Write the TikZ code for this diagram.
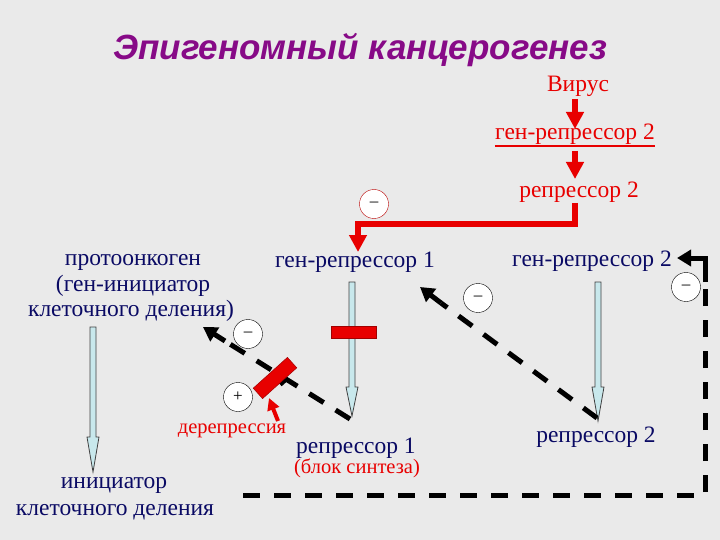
\documentclass[tikz,border=0pt]{standalone}
\usepackage{fontspec}
\setmainfont{Liberation Serif}
\newfontfamily\ttlfont{Liberation Sans}
\usetikzlibrary{arrows.meta}
\definecolor{bg}{RGB}{234,234,234}
\definecolor{navy}{RGB}{10,10,100}
\definecolor{rd}{RGB}{232,0,0}
\definecolor{ttl}{RGB}{135,10,135}
\definecolor{lblue}{RGB}{200,232,236}
\newcommand\blarr[4]{% x, ytop, yhead, ytip
  \filldraw[fill=lblue,draw=black!75,line width=0.8pt]
    (#1-3,#2) -- (#1+3,#2) -- (#1+3,#3) -- (#1+6,#3) -- (#1,#4)
    -- (#1-6,#3) -- (#1-3,#3) -- cycle;}
\begin{document}
\begin{tikzpicture}[x=1pt,y=-1pt,
  lbl/.style={font=\fontsize{23.5}{26}\selectfont, text=navy, inner sep=0pt, anchor=base},
  rlbl/.style={lbl, text=rd},
  smallr/.style={font=\fontsize{20.5}{23}\selectfont, text=rd, inner sep=0pt, anchor=base},
  redarr/.style={draw=rd, line width=6pt, -{Triangle[width=17pt,length=17pt]}},
  dsh/.style={draw=black, line width=5pt, dash pattern=on 17pt off 14pt},
  blk/.style={draw=black, line width=5pt, -{Triangle[width=16pt,length=14pt]}},
  sign/.style={circle, draw=black, fill=white, minimum size=29pt, inner sep=0pt, font=\fontsize{17}{17}\selectfont},
  redbar/.style={fill=rd, draw=rd!70!black, line width=0.5pt, minimum width=45pt, minimum height=12pt, inner sep=0pt}
]
\fill[bg] (0,0) rectangle (720,540);
\useasboundingbox (0,0) rectangle (720,540);

% title
\node[font=\ttlfont\bfseries\itshape\fontsize{35}{40}\selectfont, text=ttl, anchor=base] (title) at (360,60) {Эпигеномный канцерогенез};

% top chain
\node[rlbl] (virus) at (578,92) {Вирус};
\node[rlbl] (g2r) at (575,140) {ген-репрессор 2};
\draw[rd, line width=2pt] ([yshift=-1pt]g2r.south west) -- ([yshift=-1pt]g2r.south east);
\node[rlbl] (r2r) at (579,197) {репрессор 2};
\coordinate (a1s) at (575,99);
\coordinate (a1e) at (575,129);
\coordinate (a2s) at (575,151);
\coordinate (a2e) at (575,179);
\draw[redarr] (a1s) -- (a1e);
\draw[redarr] (a2s) -- (a2e);
\coordinate (c1) at (575,203);
\coordinate (c2) at (575,224);
\coordinate (c3) at (358,224);
\coordinate (c4) at (358,252);
\draw[redarr, line join=miter] (c1) -- (c2) -- (c3) -- (c4);
\node[sign, draw=rd!80!black] (m0) at (374,204) {–};

% genes row
\node[lbl] (g1) at (355,267) {ген-репрессор 1};
\node[lbl] (g2) at (592,266) {ген-репрессор 2};
\node[lbl] (pr1) at (133,265) {протоонкоген};
\node[lbl] (pr2) at (133,291) {(ген-инициатор};
\node[lbl] (pr3) at (131,316) {клеточного деления)};

% blue arrows
\blarr{93}{327}{437}{472}
\blarr{352}{282}{387}{416}
\blarr{598}{282}{387}{421}

% products
\node[lbl] (init) at (114,488) {инициатор};
\node[lbl] (init2) at (115,515) {клеточного деления};
\node[lbl] (r1) at (356,453) {репрессор 1};
\node[smallr] (blok) at (357,473) {(блок синтеза)};
\node[lbl] (r2) at (596,442) {репрессор 2};
\node[smallr] (derep) at (232,433) {дерепрессия};

% dashed repression arrows
\coordinate (d1s) at (350,419);
\coordinate (d1m) at (225,341);
\coordinate (d1e) at (203,327);
\draw[dsh] (d1s) -- (d1m);
\draw[blk] (d1m) -- (d1e);
\coordinate (d2s) at (597,418);
\coordinate (d2m) at (441,303);
\coordinate (d2e) at (420,287);
\draw[dsh] (d2s) -- (d2m);
\draw[blk] (d2m) -- (d2e);
\coordinate (b1) at (243,495);
\coordinate (b2) at (705,495);
\coordinate (b3) at (705,282);
\coordinate (b4) at (705,258);
\coordinate (b5) at (677,258);
\draw[dsh, line join=miter] (b1) -- (b2) -- (b3);
\draw[blk, line join=miter] (b3) -- (b4) -- (b5);

% bars
\node[redbar] (bar1) at (354,332) {};
\node[fill=black, minimum width=9pt, minimum height=6pt, inner sep=0pt, rotate=42] (nub) at (283,381) {};
\node[redbar, minimum width=46pt, minimum height=14pt, rotate=42] (bar2) at (275,378) {};
\coordinate (ds) at (278,421);
\coordinate (de) at (269,398);
\draw[rd, line width=4pt, -{Triangle[width=12pt,length=12pt]}] (ds) -- (de);

% signs
\node[sign] (m1) at (248,334) {–};
\node[sign] (p1) at (238,397) {+};
\node[sign] (m2) at (478,298) {–};
\node[sign] (m3) at (686,287) {–};
\end{tikzpicture}
\end{document}
